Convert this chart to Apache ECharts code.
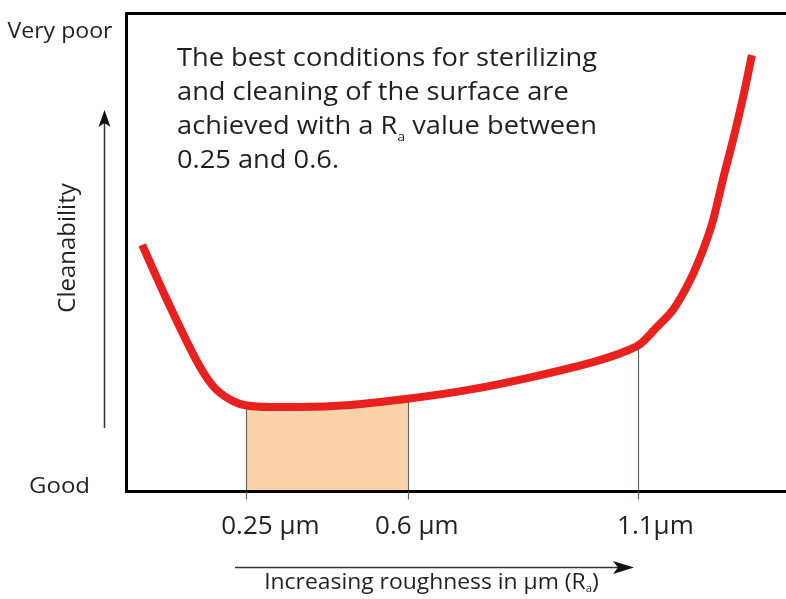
<!DOCTYPE html>
<html>
<head>
<meta charset="utf-8">
<script src="https://cdn.jsdelivr.net/npm/echarts@6/dist/echarts.min.js"></script>
<style>
html,body{margin:0;padding:0;background:#fff;overflow:hidden;}
#chart{width:786px;height:599px;}
</style>
</head>
<body>
<div id="chart"></div>
<script>
// ---- data ----
const curveX = [0.024, 0.078, 0.132, 0.160, 0.186, 0.221, 0.25, 0.30, 0.366, 0.475, 0.60, 0.728, 0.871, 1.016, 1.10, 1.140, 1.175, 1.212, 1.240, 1.262, 1.283, 1.305, 1.327, 1.346];
const curveY = [5.16, 4.00, 2.92, 2.44, 2.12, 1.89, 1.80, 1.77, 1.77, 1.81, 1.94, 2.12, 2.40, 2.75, 3.06, 3.44, 3.80, 4.42, 5.05, 5.68, 6.52, 7.35, 8.25, 9.13];
const markerValues = [0.25, 0.6, 1.1];
const markerLabels = ['0.25 µm', '0.6 µm', '1.1µm'];
const bestRange = [0.25, 0.6];
const yTopLabel = 'Very poor';
const yBottomLabel = 'Good';
const yTitle = 'Cleanability';
const xTitle = 'Increasing roughness in µm (R{sub|a})';
const noteLines = [
  'The best conditions for sterilizing',
  'and cleaning of the surface are',
  'achieved with a R{sub|a} value between',
  '0.25 and 0.6.'
];

// ---- build series data ----
const curve = curveX.map((x, i) => [x, curveY[i]]);
const area = curve.filter(p => p[0] >= bestRange[0] - 1e-9 && p[0] <= bestRange[1] + 1e-9);
const verticals = markerValues.map(v => {
  const idx = curveX.findIndex(x => Math.abs(x - v) < 1e-9);
  return { coords: [[v, 0], [v, curveY[idx]]] };
});

const FONT = "'Open Sans', sans-serif";
const TXT = '#231f20';
const GUIDE = '#5f6b5a';
const SMOOTH = 0.25;
// label nudges to the right of each tick (px)
const labelShift = [48, 18, 34];

const chart = echarts.init(document.getElementById('chart'), null, { renderer: 'canvas' });
chart.setOption({
  animation: false,
  backgroundColor: '#fff',
  grid: { left: 126.5, top: 13.5, bottom: 107.5, right: -10, show: false, outerBoundsMode: 'none' },
  xAxis: [{
    type: 'value', min: -0.01, max: 1.4417, z: 5,
    splitLine: { show: false },
    axisLine: { show: true, onZero: false, lineStyle: { color: '#000', width: 3 } },
    axisTick: { show: true, customValues: markerValues, length: 8, lineStyle: { color: GUIDE, width: 1.2 } },
    axisLabel: {
      show: true, customValues: markerValues, margin: 22,
      fontFamily: FONT, fontSize: 26, color: TXT,
      formatter: v => {
        const i = markerValues.findIndex(m => Math.abs(m - v) < 1e-6);
        return i >= 0 ? '{l' + i + '|' + markerLabels[i] + '}' : '';
      },
      rich: {
        l0: { fontFamily: FONT, fontSize: 26, color: TXT, padding: [0, 0, 0, labelShift[0]] },
        l1: { fontFamily: FONT, fontSize: 26, color: TXT, padding: [0, 0, 0, labelShift[1]] },
        l2: { fontFamily: FONT, fontSize: 26, color: TXT, padding: [0, 0, 0, labelShift[2]] }
      }
    }
  }, {
    type: 'value', min: -0.01, max: 1.4417, position: 'top', z: 5,
    splitLine: { show: false }, axisTick: { show: false }, axisLabel: { show: false },
    axisLine: { show: true, onZero: false, lineStyle: { color: '#000', width: 3 } }
  }],
  yAxis: {
    type: 'value', min: 0, max: 10, z: 5, position: 'left',
    splitLine: { show: false }, axisTick: { show: false }, axisLabel: { show: false },
    axisLine: { show: true, onZero: false, lineStyle: { color: '#000', width: 3 } }
  },
  series: [
    {
      type: 'line', data: area, smooth: SMOOTH, z: 1,
      showSymbol: false, symbol: 'none',
      lineStyle: { width: 0 },
      areaStyle: { color: '#fbd3ab', opacity: 1 },
      silent: true
    },
    {
      type: 'lines', coordinateSystem: 'cartesian2d', z: 2,
      data: verticals,
      lineStyle: { color: GUIDE, width: 1.2, opacity: 1 },
      silent: true
    },
    {
      type: 'line', data: curve, smooth: SMOOTH, z: 3,
      showSymbol: false, symbol: 'none',
      lineStyle: { color: '#e8201e', width: 8 },
      silent: true
    }
  ],
  graphic: [
    // the reference box is open at the right edge of the picture
    { type: 'rect', z: 100, shape: { x: 777, y: 15.3, width: 12, height: 474.4 }, style: { fill: '#fff' }, silent: true },
    { type: 'text', x: 60, y: 32, scaleX: 1.05, style: { text: yTopLabel, font: '22px ' + FONT, fill: TXT, textAlign: 'center', textVerticalAlign: 'middle' } },
    { type: 'text', x: 59.5, y: 486.5, scaleX: 1.09, style: { text: yBottomLabel, font: '22px ' + FONT, fill: TXT, textAlign: 'center', textVerticalAlign: 'middle' } },
    { type: 'text', x: 68, y: 248, rotation: Math.PI / 2, style: { text: yTitle, font: '24px ' + FONT, fill: TXT, textAlign: 'center', textVerticalAlign: 'middle' } },
    // vertical arrow
    { type: 'line', shape: { x1: 104.5, y1: 428, x2: 104.5, y2: 122 }, style: { stroke: '#333', lineWidth: 1.5 } },
    { type: 'polygon', shape: { points: [[104.5, 110], [110.5, 127], [104.5, 123], [98.5, 127]] }, style: { fill: '#111' } },
    // horizontal arrow
    { type: 'line', shape: { x1: 235, y1: 567.5, x2: 622, y2: 567.5 }, style: { stroke: '#333', lineWidth: 1.5 } },
    { type: 'polygon', shape: { points: [[634, 567.5], [613, 561], [618, 567.5], [613, 574]] }, style: { fill: '#111' } },
    {
      type: 'text', x: 431.5, y: 583, scaleX: 1.04,
      style: {
        text: xTitle, font: '22px ' + FONT, fill: TXT, textAlign: 'center', textVerticalAlign: 'middle',
        rich: { sub: { fontFamily: FONT, fontSize: 11, fill: TXT, verticalAlign: 'bottom', lineHeight: 12 } }
      }
    },
    {
      type: 'text', x: 177, y: 41.5, scaleX: 1.09,
      style: {
        text: noteLines.join('\n'), fontFamily: FONT, fontSize: 25, lineHeight: 34, fill: TXT,
        textAlign: 'left', textVerticalAlign: 'top',
        rich: { sub: { fontFamily: FONT, fontSize: 13, fill: TXT, verticalAlign: 'bottom', lineHeight: 14 } }
      }
    }
  ]
});
</script>
</body>
</html>
